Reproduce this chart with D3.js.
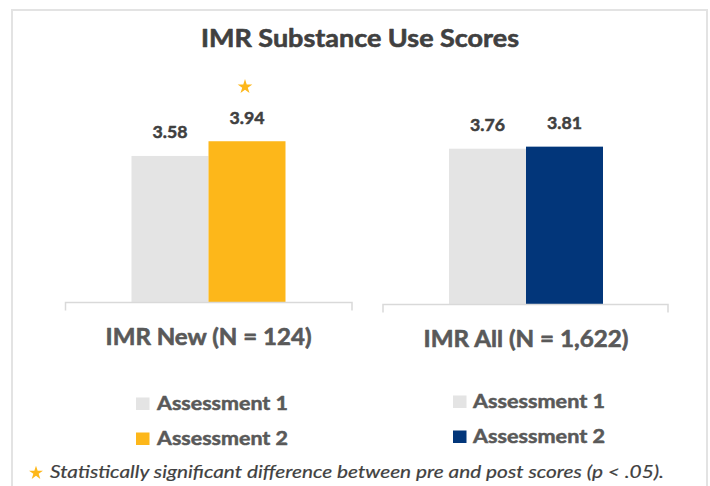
<!DOCTYPE html>
<html>
<head>
<meta charset="utf-8">
<script src="https://cdn.jsdelivr.net/npm/d3@7"></script>
<style>
  html, body { margin: 0; padding: 0; background: #ffffff; }
  svg { display: block; }
  text { font-family: Lato, "Open Sans", sans-serif; }
</style>
</head>
<body>
<script>
// ---------- data ----------
const title = "IMR Substance Use Scores";
const seriesNames = ["Assessment 1", "Assessment 2"];
const groups = ["IMR New (N = 124)", "IMR All (N = 1,622)"];
const newValues = [3.58, 3.94];
const allValues = [3.76, 3.81];
const newSignificant = [false, true];
const allSignificant = [false, false];
const footnote = "Statistically significant difference between pre and post scores (p < .05).";

// ---------- setup ----------
const W = 710, H = 486;
const svg = d3.select("body").append("svg").attr("width", W).attr("height", H);

const C = {
  border: "#e3e3e3", bar1: "#e4e4e4", orange: "#fdb71a", navy: "#02367a",
  title: "#404040", value: "#404040", label: "#595959", axis: "#d9d9d9", note: "#404040"
};

function fit(sel, w, sw) {
  sel.attr("textLength", w).attr("lengthAdjust", "spacingAndGlyphs");
  if (sw) sel.attr("stroke", sel.attr("fill")).attr("stroke-width", sw).attr("stroke-linejoin", "round");
  return sel;
}

// outer frame
svg.append("rect").attr("x", 12).attr("y", 10).attr("width", 695).attr("height", 520)
  .attr("fill", "none").attr("stroke", C.border).attr("stroke-width", 2);

// title
fit(svg.append("text").attr("x", 360).attr("y", 47).attr("text-anchor", "middle")
  .attr("font-size", 25.5).attr("font-weight", 700).attr("fill", C.title).text(title), 318, 0.6);

const starSym = d3.symbol().type(d3.symbolStar);

const panels = [
  { name: groups[0], values: newValues, sig: newSignificant, color2: C.orange,
    center: 208.5, base: 302, top: 98, axisL: 65.5, axisR: 352, labelY: 345, labelW: 206,
    legX: 136, legTextX: 157, legY: [410, 445], legW: 131 },
  { name: groups[1], values: allValues, sig: allSignificant, color2: C.navy,
    center: 526, base: 304, top: 97.5, axisL: 383, axisR: 668, labelY: 347, labelW: 205,
    legX: 453, legTextX: 473, legY: [408, 443], legW: 132 }
];

panels.forEach(p => {
  const g = svg.append("g");
  const x = d3.scaleBand().domain(seriesNames).range([p.center - 77, p.center + 77]).padding(0);
  const y = d3.scaleLinear().domain([0, 5]).range([p.base, p.top]);
  const colors = [C.bar1, p.color2];
  const rows = seriesNames.map((s, i) => ({ s, v: p.values[i], sig: p.sig[i], c: colors[i] }));

  g.selectAll("rect.bar").data(rows).join("rect").attr("class", "bar")
    .attr("x", d => x(d.s)).attr("width", x.bandwidth())
    .attr("y", d => y(d.v)).attr("height", d => y(0) - y(d.v))
    .attr("fill", d => d.c);

  g.selectAll("text.val").data(rows).join("text").attr("class", "val")
    .attr("x", d => x(d.s) + x.bandwidth() / 2).attr("y", d => y(d.v) - 17.5)
    .attr("text-anchor", "middle").attr("font-size", 17.5).attr("font-weight", 700)
    .attr("fill", C.value).text(d => d.v.toFixed(2))
    .each(function() { fit(d3.select(this), 35, 0.5); });

  g.selectAll("path.star").data(rows.filter(d => d.sig)).join("path").attr("class", "star")
    .attr("d", starSym.size(66)())
    .attr("transform", d => `translate(${x(d.s) + x.bandwidth() / 2 - 2},${y(d.v) - 54.5})`)
    .attr("fill", C.orange);

  // category axis line with end ticks
  g.append("path")
    .attr("d", `M${p.axisL},${p.base + 8.5}V${p.base + 0.5}H${p.axisR}V${p.base + 8.5}`)
    .attr("fill", "none").attr("stroke", C.axis).attr("stroke-width", 1.5);

  fit(g.append("text").attr("x", p.center).attr("y", p.labelY).attr("text-anchor", "middle")
    .attr("font-size", 23.5).attr("font-weight", 700).attr("fill", C.label).text(p.name), p.labelW, 0.6);

  // legend
  const lg = g.selectAll("g.leg").data(rows).join("g").attr("class", "leg");
  lg.append("rect").attr("x", p.legX).attr("y", (d, i) => p.legY[i] - 12.5)
    .attr("width", 13.5).attr("height", 12.5).attr("fill", d => d.c);
  lg.append("text").attr("x", p.legTextX).attr("y", (d, i) => p.legY[i])
    .attr("font-size", 18.5).attr("font-weight", 700).attr("fill", C.label).text(d => d.s)
    .each(function() { fit(d3.select(this), p.legW, 0.5); });
});

// footnote
svg.append("path").attr("d", starSym.size(60)()).attr("transform", "translate(36,473)").attr("fill", C.orange);
fit(svg.append("text").attr("x", 50).attr("y", 478).attr("font-size", 17).attr("font-style", "italic")
  .attr("fill", C.note).text(footnote), 614, 0.2);
</script>
</body>
</html>
